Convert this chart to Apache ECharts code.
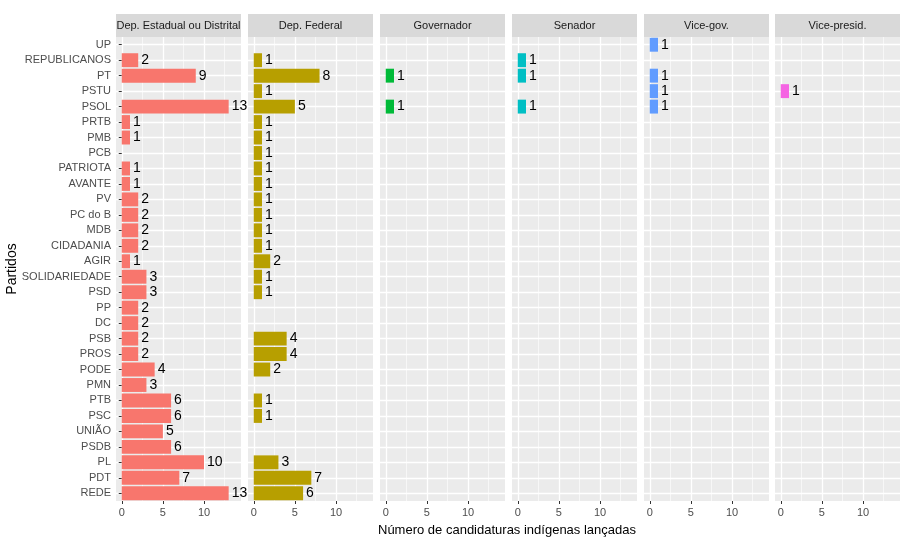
<!DOCTYPE html>
<html><head><meta charset="utf-8">
<script src="https://cdn.jsdelivr.net/npm/echarts@6/dist/echarts.min.js"></script>
<style>html,body{margin:0;padding:0;background:#fff}#c{width:919px;height:541px}</style>
</head><body><div id="c"></div><script>
const partidos = ['UP','REPUBLICANOS','PT','PSTU','PSOL','PRTB','PMB','PCB','PATRIOTA','AVANTE','PV','PC do B','MDB','CIDADANIA','AGIR','SOLIDARIEDADE','PSD','PP','DC','PSB','PROS','PODE','PMN','PTB','PSC','UNIÃO','PSDB','PL','PDT','REDE'];
const cargos = ['Dep. Estadual ou Distrital','Dep. Federal','Governador','Senador','Vice-gov.','Vice-presid.'];
const depEstadual = [null,2,9,null,13,1,1,null,1,1,2,2,2,2,1,3,3,2,2,2,2,4,3,6,6,5,6,10,7,13];
const depFederal  = [null,1,8,1,5,1,1,1,1,1,1,1,1,1,2,1,1,null,null,4,4,2,null,1,1,null,null,3,7,6];
const governador  = [null,null,1,null,1,null,null,null,null,null,null,null,null,null,null,null,null,null,null,null,null,null,null,null,null,null,null,null,null,null];
const senador     = [null,1,1,null,1,null,null,null,null,null,null,null,null,null,null,null,null,null,null,null,null,null,null,null,null,null,null,null,null,null];
const viceGov     = [1,null,1,1,1,null,null,null,null,null,null,null,null,null,null,null,null,null,null,null,null,null,null,null,null,null,null,null,null,null];
const vicePresid  = [null,null,null,1,null,null,null,null,null,null,null,null,null,null,null,null,null,null,null,null,null,null,null,null,null,null,null,null,null,null];
const xTicks = [0,5,10];
const xMinor = [2.5,7.5,12.5];
const seriesValues = [depEstadual, depFederal, governador, senador, viceGov, vicePresid];
const colors = ['#F8766D','#B79F00','#00BA38','#00BFC4','#619CFF','#F564E3'];

const FONT = "'Liberation Sans', Arial, sans-serif";
const lefts = [116,248,380,512,644,775];
const W = 125, TOP = 37, H = 464;

const grid = [], xAxis = [], yAxis = [], series = [], graphic = [];
lefts.forEach((l, i) => {
  grid.push({left: l, top: TOP, width: W, height: H, show: true, backgroundColor: '#EBEBEB', borderWidth: 0});
  xAxis.push({
    type: 'value', gridIndex: i, min: -0.7, max: 14.5,
    axisLine: {show: false},
    axisTick: {show: true, length: 3, lineStyle: {color: '#333', width: 1}, customValues: xTicks},
    axisLabel: {show: true, customValues: xTicks, color: '#4D4D4D', fontSize: 11, fontFamily: FONT, margin: 6},
    splitLine: {show: true, lineStyle: {color: '#fff', width: 1.3}}
  });
  xAxis.push({
    type: 'value', gridIndex: i, min: -0.7, max: 14.5, position: 'bottom',
    axisLine: {show: false},
    axisTick: {show: false, customValues: xMinor},
    axisLabel: {show: false, customValues: xMinor},
    splitLine: {show: true, lineStyle: {color: '#fff', width: 0.6}}
  });
  yAxis.push({
    type: 'category', gridIndex: i, data: partidos, inverse: true,
    axisLine: {show: false},
    axisTick: {show: i === 0, alignWithLabel: true, length: 3, lineStyle: {color: '#333', width: 1}},
    axisLabel: {show: i === 0, color: '#4D4D4D', fontSize: 11, fontFamily: FONT, margin: 5, interval: 0},
    splitLine: {show: true, alignWithLabel: true, interval: 0, lineStyle: {color: '#fff', width: 1.3}}
  });
  series.push({
    type: 'bar', xAxisIndex: i * 2, yAxisIndex: i, barWidth: '90%',
    data: seriesValues[i].map(v => v === null ? '-' : v),
    itemStyle: {color: colors[i]},
    label: {show: true, position: 'right', distance: 3, color: '#000', fontSize: 14, fontFamily: FONT},
    silent: true, animation: false
  });
  graphic.push({type: 'rect', left: l, top: 14, shape: {width: W, height: 23}, style: {fill: '#D9D9D9'}, silent: true});
  graphic.push({type: 'text', x: l + W / 2, y: 25.5, style: {text: cargos[i], fill: '#1A1A1A', font: '11px ' + FONT, align: 'center', verticalAlign: 'middle'}, silent: true});
});
graphic.push({type: 'text', x: 507, y: 530, style: {text: 'Número de candidaturas indígenas lançadas', fill: '#000', font: '13px ' + FONT, align: 'center', verticalAlign: 'middle'}, silent: true});
graphic.push({type: 'text', x: 12, y: 269, rotation: Math.PI / 2, style: {text: 'Partidos', fill: '#000', font: '14px ' + FONT, align: 'center', verticalAlign: 'middle'}, silent: true});

const chart = echarts.init(document.getElementById('c'), null, {renderer: 'canvas'});
chart.setOption({animation: false, backgroundColor: '#fff', grid, xAxis, yAxis, series, graphic});
</script></body></html>
